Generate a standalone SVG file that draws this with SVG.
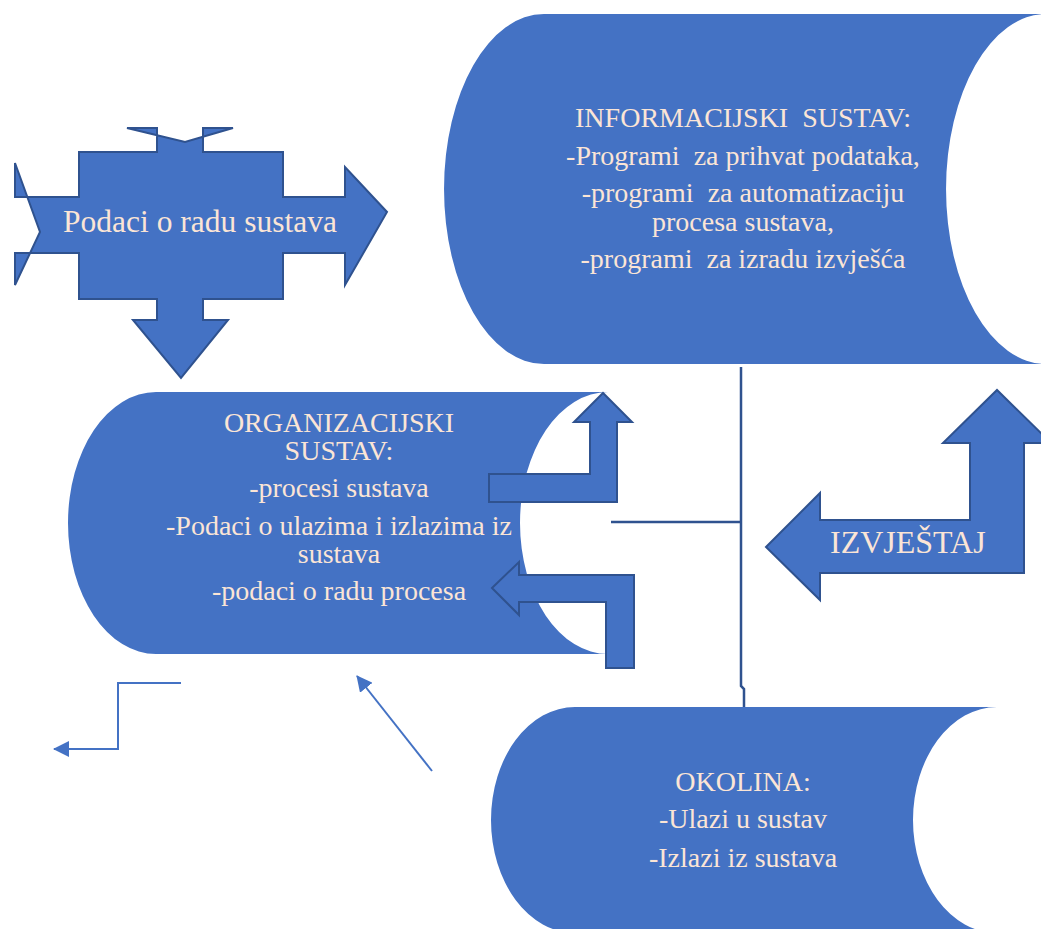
<svg xmlns="http://www.w3.org/2000/svg" width="1041" height="929" viewBox="0 0 1041 929">
  <defs>
    <style>
      .shape { fill: #4472C4; }
      .arrow { fill: #4472C4; stroke: #2F528F; stroke-width: 2; stroke-linejoin: miter; }
      .txt { font-family: "Liberation Serif", "Times New Roman", serif; font-size: 28px; fill: #FBE5D6; text-anchor: middle; white-space: pre; }
      .conn { fill: none; stroke: #4472C4; stroke-width: 2; }
      .trunk { fill: none; stroke: #2F528F; stroke-width: 2.5; }
    </style>
    <marker id="ah" viewBox="0 0 16 16" refX="15" refY="8" markerWidth="16" markerHeight="16" markerUnits="userSpaceOnUse" orient="auto">
      <path d="M0,0 L16,8 L0,16 Z" fill="#4472C4"/>
    </marker>
  </defs>

  <g id="connectors">
    <path class="trunk" d="M741,367 V686 L744,689 V708"/>
    <path class="trunk" d="M611,522 H741"/>
    <path class="conn" d="M181,683 H118 V749 H54" marker-end="url(#ah)"/>
    <path class="conn" d="M432,771 L357,676" marker-end="url(#ah)"/>
  </g>

  <g id="informacijski-sustav">
    <path class="shape" d="M544,14 H1046 A100,175 0 0 0 1046,364 H544 A100,175 0 0 1 544,14 Z"/>
    <text class="txt" x="743" y="127">INFORMACIJSKI  SUSTAV:</text>
    <text class="txt" x="743" y="165">-Programi  za prihvat podataka,</text>
    <text class="txt" x="743" y="202">-programi  za automatizaciju</text>
    <text class="txt" x="743" y="231">procesa sustava,</text>
    <text class="txt" x="743" y="268">-programi  za izradu izvješća</text>
  </g>

  <g id="podaci-o-radu">
    <path class="arrow" d="M79,152 L157,152 L157,128 L127,128 L185,142 L233,128 L203,128 L203,152 L283,152 L283,197 L345,197 L345,167 L387,212 L345,285 L345,253 L283,253 L283,299 L203,299 L203,320 L228,320 L181,378 L133,320 L157,320 L157,299 L79,299 L79,253 L15,253 L15,285 L40,232 L15,163 L15,197 L79,197 Z"/>
    <text class="txt" x="200" y="232" style="font-size:31.5px">Podaci o radu sustava</text>
  </g>

  <g id="organizacijski-sustav">
    <path class="shape" d="M156,392 H608 A88,131 0 0 0 608,654 H156 A88,131 0 0 1 156,392 Z"/>
    <text class="txt" x="339" y="432">ORGANIZACIJSKI</text>
    <text class="txt" x="339" y="460">SUSTAV:</text>
    <text class="txt" x="339" y="497">-procesi sustava</text>
    <text class="txt" x="339" y="535">-Podaci o ulazima i izlazima iz</text>
    <text class="txt" x="339" y="563">sustava</text>
    <text class="txt" x="339" y="600">-podaci o radu procesa</text>
  </g>

  <g id="arrow-up-bent">
    <path class="arrow" d="M489,474 L590,474 L590,422 L574,422 L603,393 L632,422 L617,422 L617,502 L489,502 Z"/>
  </g>

  <g id="arrow-left-bent">
    <path class="arrow" d="M492,588 L519,562 L519,575 L634,575 L634,668 L606,668 L606,602 L519,602 L519,615 Z"/>
  </g>

  <g id="izvjestaj">
    <path class="arrow" d="M766,547 L820,493 L820,520 L970,520 L970,443 L943,443 L997,390 L1051,443 L1024,443 L1024,573 L820,573 L820,600 Z"/>
    <text class="txt" x="830" y="553" style="font-size:32px;text-anchor:start">IZVJEŠTAJ</text>
  </g>

  <g id="okolina">
    <path class="shape" d="M575,707 H997 A84,113 0 0 0 997,933 H575 A84,113 0 0 1 575,707 Z"/>
    <text class="txt" x="743" y="791">OKOLINA:</text>
    <text class="txt" x="743" y="828">-Ulazi u sustav</text>
    <text class="txt" x="743" y="867">-Izlazi iz sustava</text>
  </g>
</svg>
